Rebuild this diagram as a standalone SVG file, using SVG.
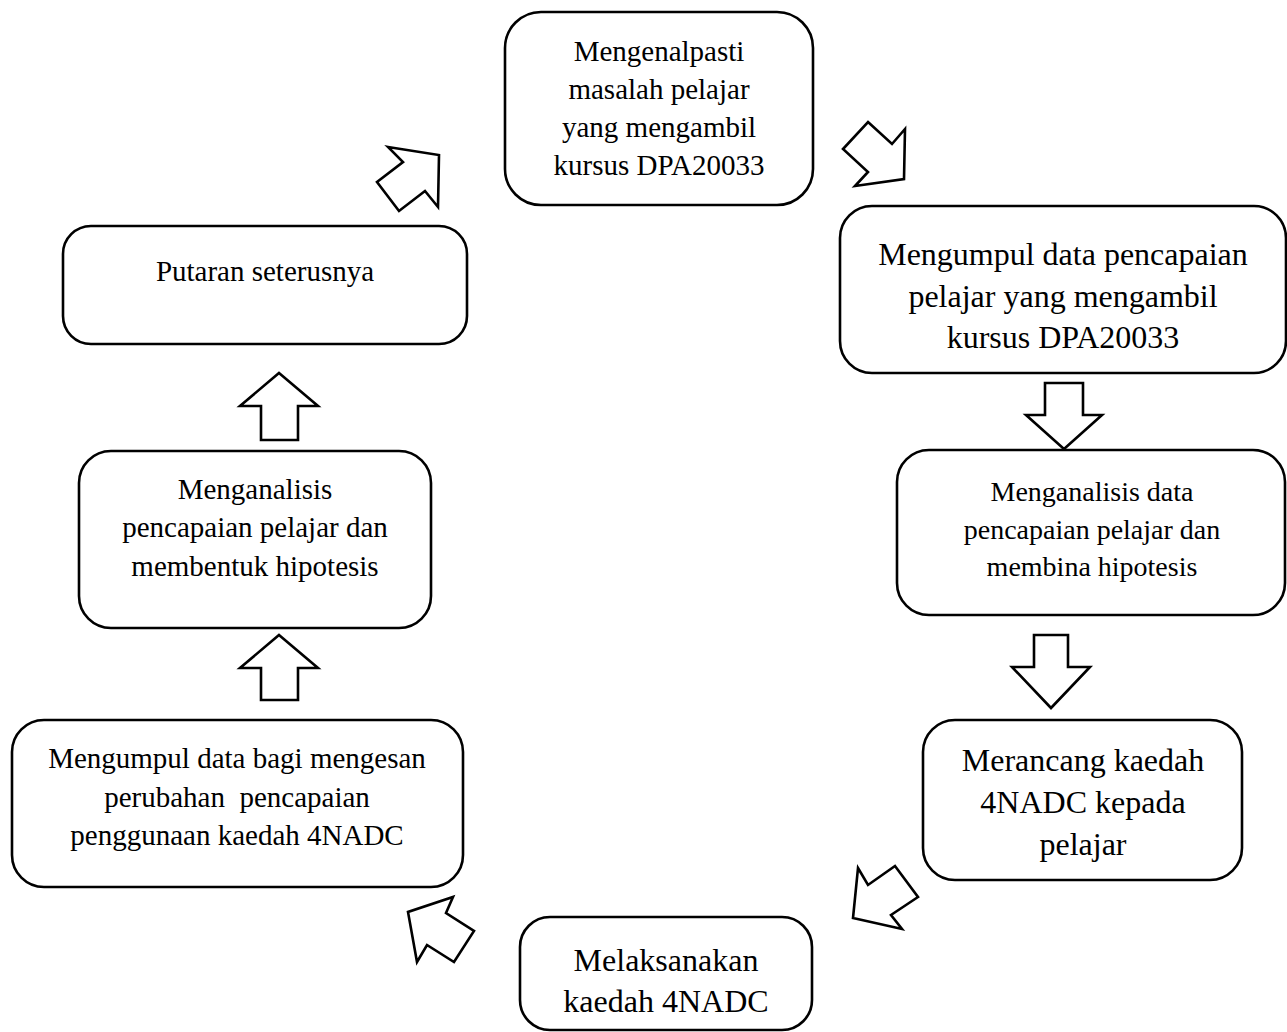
<svg xmlns="http://www.w3.org/2000/svg" width="1287" height="1032" viewBox="0 0 1287 1032">
<style>
.box{fill:#fff;stroke:#000;stroke-width:2.6}
.arr{fill:#fff;stroke:#000;stroke-width:2.6;stroke-linejoin:miter}
text{font-family:"Liberation Serif","Times New Roman",serif;fill:#000;text-anchor:middle}
.f29{font-size:29px}.f32{font-size:32px}.f28{font-size:28px}
</style>
<rect width="1287" height="1032" fill="#fff"/>
<g id="connectors">
<polygon class="arr" points="388,147 439,155 438,207 425,191 399,211 377,182 403,162"/>
<polygon class="arr" points="868,122 892,144 905,129 904,179 855,186 868,172 843,149"/>
<polygon class="arr" points="1045,383 1083,383 1083,415 1102,415 1064,449 1026,415 1045,415"/>
<polygon class="arr" points="1034,635 1068,635 1068,667 1090,667 1051,708 1012,667 1034,667"/>
<polygon class="arr" points="858,868 868,885 895,866 918,897 891,915 902,929 853,918"/>
<polygon class="arr" points="453,897 446,913 474,931 454,962 427,945 417,962 408,912"/>
<polygon class="arr" points="279,373 318,406 298,406 298,440 261,440 261,406 240,406"/>
<polygon class="arr" points="279,635 318,668 298,668 298,700 261,700 261,668 240,668"/>
</g>
<g id="node1">
<rect class="box" x="505" y="12" width="308" height="193" rx="36"/>
<text class="f29" x="659" y="61">Mengenalpasti</text>
<text class="f29" x="659" y="99">masalah pelajar</text>
<text class="f29" x="659" y="137">yang mengambil</text>
<text class="f29" x="659" y="175">kursus DPA20033</text>
</g>
<g id="node2">
<rect class="box" x="840" y="206" width="446" height="167" rx="32"/>
<text class="f32" x="1063" y="265">Mengumpul data pencapaian</text>
<text class="f32" x="1063" y="307">pelajar yang mengambil</text>
<text class="f32" x="1063" y="348">kursus DPA20033</text>
</g>
<g id="node3">
<rect class="box" x="897" y="450" width="388" height="165" rx="32"/>
<text class="f28" x="1092" y="501">Menganalisis data</text>
<text class="f28" x="1092" y="539">pencapaian pelajar dan</text>
<text class="f28" x="1092" y="576">membina hipotesis</text>
</g>
<g id="node4">
<rect class="box" x="923" y="720" width="319" height="160" rx="32"/>
<text class="f32" x="1083" y="771">Merancang kaedah</text>
<text class="f32" x="1083" y="813">4NADC kepada</text>
<text class="f32" x="1083" y="855">pelajar</text>
</g>
<g id="node5">
<rect class="box" x="520" y="917" width="292" height="113" rx="30"/>
<text class="f32" x="666" y="971">Melaksanakan</text>
<text class="f32" x="666" y="1012">kaedah 4NADC</text>
</g>
<g id="node6">
<rect class="box" x="12" y="720" width="451" height="167" rx="32"/>
<text class="f29" x="237" y="768">Mengumpul data bagi mengesan</text>
<text class="f29" x="237" y="807" xml:space="preserve">perubahan  pencapaian</text>
<text class="f29" x="237" y="845">penggunaan kaedah 4NADC</text>
</g>
<g id="node7">
<rect class="box" x="79" y="451" width="352" height="177" rx="32"/>
<text class="f29" x="255" y="499">Menganalisis</text>
<text class="f29" x="255" y="537">pencapaian pelajar dan</text>
<text class="f29" x="255" y="576">membentuk hipotesis</text>
</g>
<g id="node8">
<rect class="box" x="63" y="226" width="404" height="118" rx="28"/>
<text class="f29" x="265" y="281">Putaran seterusnya</text>
</g>
</svg>
